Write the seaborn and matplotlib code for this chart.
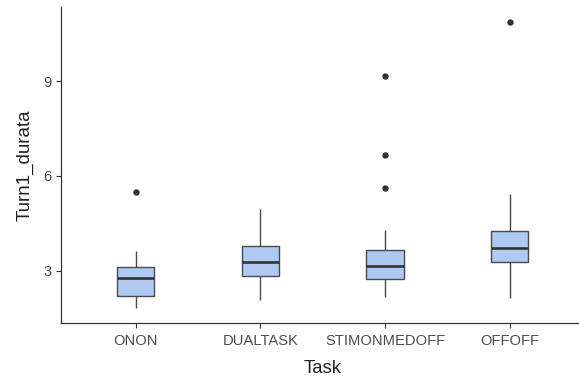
import numpy as np
import pandas as pd
import matplotlib
matplotlib.use("Agg")
import matplotlib.pyplot as plt
import seaborn as sns

categories = ["ONON", "DUALTASK", "STIMONMEDOFF", "OFFOFF"]
onon = [1.81, 2.00, 2.19, 2.50, 2.76, 2.90, 3.12, 3.63, 5.50]
dualtask = [2.07, 2.50, 2.84, 3.10, 3.28, 3.50, 3.78, 4.30, 4.94]
stimonmedoff = [2.18, 2.35, 2.50, 2.62, 2.74, 2.85, 2.95, 3.05, 3.16,
                3.30, 3.42, 3.55, 3.65, 4.30, 5.62, 6.65, 9.15]
offoff = [2.13, 2.80, 3.28, 3.50, 3.72, 4.00, 4.26, 5.44, 10.88]
y_ticks = [3, 6, 9]

series = [onon, dualtask, stimonmedoff, offoff]
df = pd.DataFrame({
    "Task": [c for c, s in zip(categories, series) for _ in s],
    "Turn1_durata": [v for s in series for v in s],
})

sns.set_style("white")
plt.rcParams["font.family"] = ["Liberation Sans", "DejaVu Sans"]

fig = plt.figure(figsize=(5.79, 3.78), dpi=100)
ax = fig.add_axes([0.1054, 0.1463, 0.904, 0.8344])

sns.boxplot(
    data=df, x="Task", y="Turn1_durata", order=categories, ax=ax,
    width=0.3, color="#aecaf3", saturation=1, showcaps=False,
    linecolor="#4a4a4a", linewidth=1.0,
    medianprops=dict(color="#333333", linewidth=1.9),
    flierprops=dict(marker="o", markersize=3.6, markerfacecolor="#333333",
                    markeredgecolor="#333333"),
)

allv = df["Turn1_durata"]
rng = allv.max() - allv.min()
ax.set_ylim(allv.min() - 0.05 * rng, allv.max() + 0.05 * rng)
ax.set_xlim(-0.6, 3.6)
ax.set_yticks(y_ticks)
ax.set_yticklabels([str(t) for t in y_ticks])

for s in ["top", "right"]:
    ax.spines[s].set_visible(False)
for s in ["left", "bottom"]:
    ax.spines[s].set_color("#333333")
    ax.spines[s].set_linewidth(0.9)
ax.tick_params(axis="both", which="both", length=3.5, width=0.8, color="#333333",
               labelsize=10.6, labelcolor="#4d4d4d", direction="out",
               bottom=True, left=True)
ax.tick_params(axis="x", pad=4.5)
ax.tick_params(axis="y", pad=3)
ax.set_xlabel("Task", fontsize=13.3, color="#222222", labelpad=9)
ax.set_ylabel("Turn1_durata", fontsize=13.5, color="#222222", labelpad=7)

fig.savefig("out.png", dpi=100)
